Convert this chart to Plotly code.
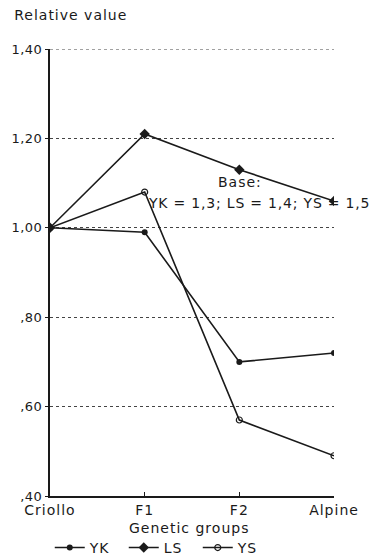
import plotly.graph_objects as go

groups = ["Criollo", "F1", "F2", "Alpine"]
yk = [1.00, 0.99, 0.70, 0.72]
ls = [1.00, 1.21, 1.13, 1.06]
ys = [1.00, 1.08, 0.57, 0.49]

tick_vals = [0.40, 0.60, 0.80, 1.00, 1.20, 1.40]
tick_text = [",40", ",60", ",80", "1,00", "1,20", "1,40"]

FONT = "DejaVu Sans"
INK = "#1a1a1a"


def wide(s, sp=1.0):
    """Wrap text in a letter-spaced span for a plotter-style look."""
    return f"<span style='letter-spacing:{sp}px'>{s}</span>"


fig = go.Figure()
fig.add_trace(go.Scatter(
    x=groups, y=yk, name=wide("YK"), mode="lines+markers",
    line=dict(color=INK, width=1.6),
    marker=dict(symbol="circle", size=6, color=INK),
))
fig.add_trace(go.Scatter(
    x=groups, y=ls, name=wide("LS"), mode="lines+markers",
    line=dict(color=INK, width=1.6),
    marker=dict(symbol="diamond", size=8, color=INK),
))
fig.add_trace(go.Scatter(
    x=groups, y=ys, name=wide("YS"), mode="lines+markers",
    line=dict(color=INK, width=1.6),
    marker=dict(symbol="circle-open", size=6, color=INK, line=dict(width=1.2)),
))

# top gridline sits on the range edge, so draw it explicitly
fig.add_shape(
    type="line", xref="paper", yref="y", x0=0, x1=1,
    y0=tick_vals[-1], y1=tick_vals[-1],
    line=dict(color="#444444", width=1, dash="dot"),
)

fig.add_annotation(
    x=0.67, y=1.103, xref="paper", yref="y", text=wide("Base:"),
    showarrow=False, font=dict(family=FONT, size=14, color=INK),
    xanchor="center", yanchor="middle",
)
fig.add_annotation(
    x=0.735, y=1.056, xref="paper", yref="y",
    text=wide("YK = 1,3; LS = 1,4; YS = 1,5", 0.8),
    showarrow=False, font=dict(family=FONT, size=14, color=INK),
    xanchor="center", yanchor="middle",
)

# x-axis title, placed between the tick labels and the legend
fig.add_annotation(
    x=0.49, y=-0.072, xref="paper", yref="paper",
    text=wide("Genetic groups"),
    showarrow=False, font=dict(family=FONT, size=14, color=INK),
    xanchor="center", yanchor="middle",
)

fig.update_layout(
    width=374, height=558,
    margin=dict(l=50, r=40, t=49, b=62, autoexpand=False),
    paper_bgcolor="white", plot_bgcolor="white",
    font=dict(family=FONT, size=14, color=INK),
    showlegend=True,
    legend=dict(
        orientation="h", x=0.39, xref="paper", xanchor="center",
        y=0.018, yref="container", yanchor="middle",
        font=dict(family=FONT, size=14, color=INK),
        itemwidth=30, entrywidth=29, entrywidthmode="pixels",
        bgcolor="rgba(0,0,0,0)",
    ),
    title=dict(
        text=wide("Relative value"), x=0.038, xanchor="left",
        y=0.973, yanchor="middle",
        font=dict(family=FONT, size=14, color=INK),
    ),
)

fig.update_xaxes(
    type="category", range=[0, 3], automargin=False,
    tickvals=groups, ticktext=[wide(g) for g in groups],
    showline=True, linecolor=INK, linewidth=2,
    ticks="inside", ticklen=4, tickcolor=INK,
    showgrid=False, zeroline=False,
    tickfont=dict(family=FONT, size=14),
)
fig.update_yaxes(
    range=[0.4, 1.4], tickvals=tick_vals, ticktext=[wide(t, 0.5) for t in tick_text],
    automargin=False,
    showline=True, linecolor=INK, linewidth=2,
    ticks="outside", ticklen=3, tickcolor=INK,
    showgrid=True, gridcolor="#444444", griddash="dot", gridwidth=1,
    zeroline=False, tickfont=dict(family=FONT, size=13),
)

fig.write_html("out.html")
